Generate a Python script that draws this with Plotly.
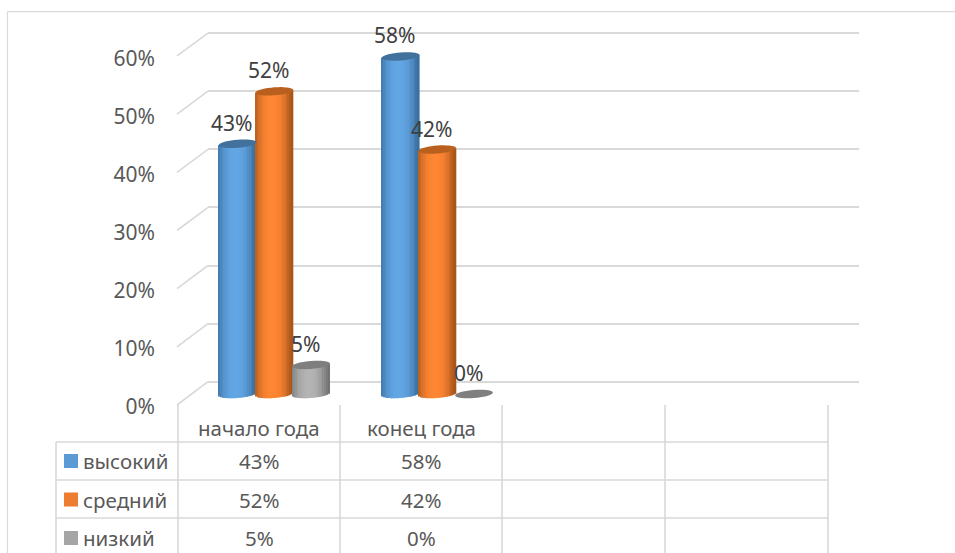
import math
import plotly.graph_objects as go

categories = ["начало года", "конец года"]
slots = [0, 1, 2, 3]
series_names = ["высокий", "средний", "низкий"]
vysokiy = [43, 58]
sredniy = [52, 42]
nizkiy = [5, 0]
y_ticks = [0, 10, 20, 30, 40, 50, 60]

W, H = 955, 553
FONT = "Noto Sans"
TXT = "#595959"
LINE = "#d9d9d9"
LEG = ["#5b9bd5", "#ed7d31", "#a5a5a5"]
CAP = ["#41719c", "#b9601f", "#7f7f7f"]
GRAD = [("#3b6f9f", "#62a6e4"), ("#a8551a", "#ff8633"), ("#737373", "#b4b4b4")]
series = [vysokiy, sredniy, nizkiy]

# pixel calibration of the three scales
PX_CAT = 163.0
CAT0 = 274.3
BAR_PITCH = 36.7 / PX_CAT
BAR_HALF = 18.9 / PX_CAT
BAR_BASE, BAR_SCALE = 394.0, 5.82
GRID_BASE, GRID_SCALE = 381.7, 5.81
LAB_BASE, LAB_SCALE = 406.5, 5.8
CAP_H, CAP_TILT = 4.0, 0.075
N = 22


def hex2rgb(c):
    return tuple(int(c[i:i + 2], 16) for i in (1, 3, 5))


def shade(pair, u):
    a, b = hex2rgb(pair[0]), hex2rgb(pair[1])
    t = max(0.0, 1 - abs(u + 0.08) ** 2.2 * 1.0)
    return "rgb(%d,%d,%d)" % tuple(round(a[i] + (b[i] - a[i]) * t) for i in range(3))


def yr(base, scale):
    return [(base - H) / scale, base / scale]


fig = go.Figure()
# back wall grid (first subplot, so it lies under the bars)
fig.add_trace(go.Scatter(x=[0], y=[0], xaxis="x", yaxis="y", mode="markers",
                         marker=dict(opacity=0), hoverinfo="skip", showlegend=False))
# value tick labels on the front axis
fig.add_trace(go.Scatter(x=[0], y=[0], xaxis="x2", yaxis="y3", mode="markers",
                         marker=dict(opacity=0), hoverinfo="skip", showlegend=False))

shapes = []
annotations = []
for k, (name, vals) in enumerate(zip(series_names, series)):
    centers = [i + (k - 1) * BAR_PITCH for i in range(len(vals))]
    # the plain value bars
    fig.add_trace(go.Bar(x=centers, y=vals, width=BAR_HALF * 1.8, name=name, xaxis="x2", yaxis="y2",
                         marker=dict(color=LEG[k], line=dict(width=0)), showlegend=False))
    # shaded strips producing the cylinder look
    sx, sy, sb, sc = [], [], [], []
    for c, v in zip(centers, vals):
        if v <= 0:
            continue
        for j in range(N):
            u = -1 + (2 * j + 1) / N
            tilt = CAP_TILT * u * BAR_HALF * PX_CAT / BAR_SCALE
            low = -CAP_H / BAR_SCALE * math.sqrt(1 - u * u) + tilt
            sx.append(c + u * BAR_HALF)
            sb.append(low)
            sy.append(v + tilt - low)
            sc.append(shade(GRAD[k], u))
    if sx:
        fig.add_trace(go.Bar(x=sx, y=sy, base=sb, width=2 * BAR_HALF / N * 1.12, xaxis="x2", yaxis="y2",
                             marker=dict(color=sc, line=dict(width=0)), hoverinfo="skip", showlegend=False))
    for c, v in zip(centers, vals):
        pts = []
        for a in range(0, 360, 10):
            dx = math.cos(math.radians(a))
            dy = math.sin(math.radians(a))
            px = dx * BAR_HALF
            py = (CAP_H * dy + CAP_TILT * dx * BAR_HALF * PX_CAT) / BAR_SCALE
            pts.append(f"{c + px:.4f},{v + py:.4f}")
        shapes.append(dict(type="path", xref="x2", yref="y2", layer="above", path="M" + " L".join(pts) + " Z",
                           fillcolor=CAP[k], line=dict(width=0)))
        annotations.append(dict(x=c, y=v, xref="x2", yref="y2", text=f"{v}%", showarrow=False,
                                xshift=-6, yshift=21, font=dict(family=FONT, size=21, color="#404040")))


def pline(x0, y0, x1, y1, w=1.6):
    shapes.append(dict(type="line", xref="paper", yref="paper", layer="below",
                       x0=x0 / W, x1=x1 / W, y0=1 - y0 / H, y1=1 - y1 / H,
                       line=dict(color=LINE, width=w)))


def ptext(x, y, t, anchor="center", size=20.5):
    annotations.append(dict(x=x / W, y=1 - y / H, xref="paper", yref="paper", text=t, showarrow=False,
                            xanchor=anchor, yanchor="middle", font=dict(family=FONT, size=size, color=TXT)))


# chart frame
pline(7.5, 11.7, 955, 11.7, 1.2)
pline(7.5, 11.7, 7.5, 553, 1.2)
# side wall diagonals
for t in y_ticks:
    pline(177, 405 - 5.817 * t, 208, GRID_BASE - GRID_SCALE * t)
# data table
COLS = [178, 340, 502, 665, 828]
ROWS = [442, 480, 518]
for x in COLS:
    pline(x, 405, x, 553)
pline(56, 442, 56, 553)
for y in ROWS:
    pline(56, y, 828, y)
for i, c in enumerate(categories):
    ptext((COLS[i] + COLS[i + 1]) / 2, 428, c)
ROW_C = [461, 499.5, 538]
for k, (name, vals) in enumerate(zip(series_names, series)):
    shapes.append(dict(type="rect", xref="paper", yref="paper", layer="above", x0=64 / W, x1=78 / W,
                       y0=1 - (ROW_C[k] + 7) / H, y1=1 - (ROW_C[k] - 7) / H,
                       fillcolor=LEG[k], line=dict(width=0)))
    ptext(81, ROW_C[k], name, "left")
    for i, v in enumerate(vals):
        ptext((COLS[i] + COLS[i + 1]) / 2, ROW_C[k], f"{v}%")

fig.update_layout(
    width=W, height=H, margin=dict(l=0, r=0, t=0, b=0), autosize=False,
    paper_bgcolor="white", plot_bgcolor="rgba(0,0,0,0)", barmode="overlay", showlegend=False,
    shapes=shapes, annotations=annotations, font=dict(family=FONT, color=TXT),
    xaxis=dict(domain=[208 / W, 859 / W], range=[0, 1], visible=False, fixedrange=True),
    yaxis=dict(domain=[0, 1], range=yr(GRID_BASE, GRID_SCALE), tickvals=y_ticks, showgrid=True,
               gridcolor=LINE, gridwidth=1.8, zeroline=False, showline=False, showticklabels=False, ticks=""),
    xaxis2=dict(domain=[0, 1], range=[-CAT0 / PX_CAT, (W - CAT0) / PX_CAT], anchor="y2", visible=False,
                tickvals=slots),
    yaxis2=dict(domain=[0, 1], range=yr(BAR_BASE, BAR_SCALE), anchor="x2", visible=False),
    yaxis3=dict(domain=[0, 1], range=yr(LAB_BASE, LAB_SCALE), anchor="free", position=155 / W, side="left",
                overlaying="y2", tickvals=y_ticks, ticktext=[f"{t}%" for t in y_ticks], showgrid=False,
                zeroline=False, showline=False, ticks="", tickfont=dict(family=FONT, size=21, color=TXT)),
)
fig.write_html("out.html", config={"displayModeBar": False},
               post_script="document.body.style.margin='0';document.body.style.overflow='hidden';")
